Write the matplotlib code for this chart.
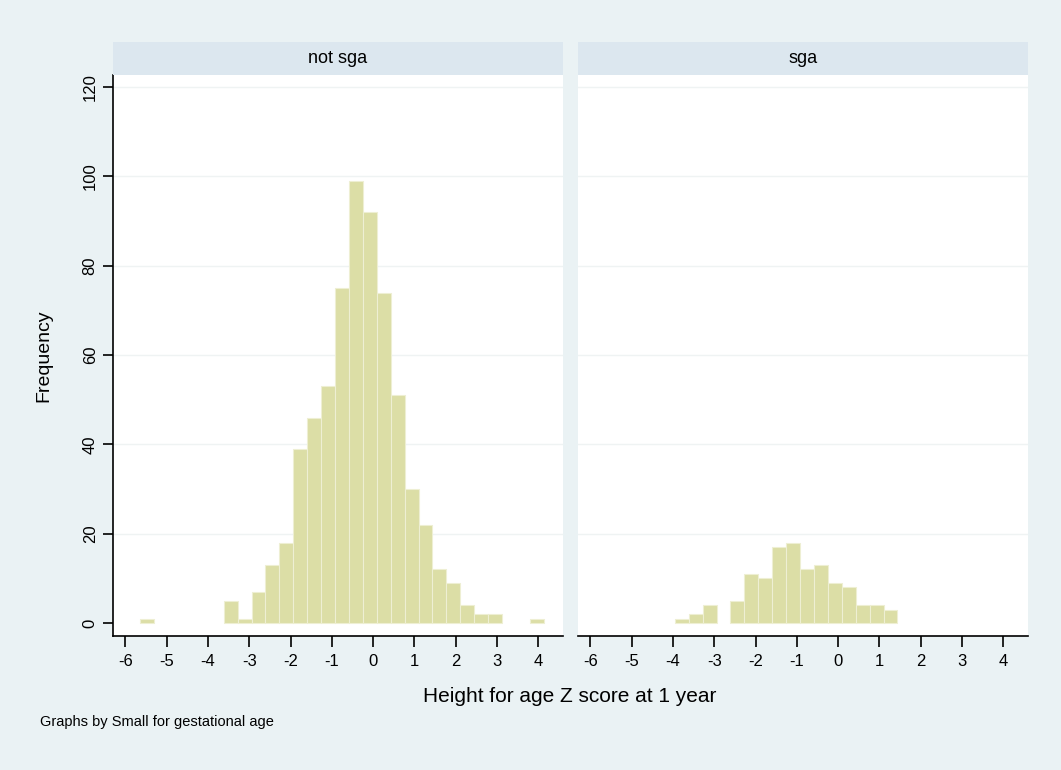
import numpy as np
import matplotlib
matplotlib.use("Agg")
import matplotlib.pyplot as plt

# ---- data ----
panels = ["not sga", "sga"]
bin_min = -5.64
bin_width = 0.337
n_bins = 29
bin_edges = bin_min + bin_width * np.arange(n_bins + 1)

counts_not_sga = [1, 0, 0, 0, 0, 0, 5, 1, 7, 13, 18, 39, 46, 53, 75, 99, 92, 74,
                  51, 30, 22, 12, 9, 4, 2, 2, 0, 0, 1]
counts_sga = [0, 0, 0, 0, 0, 1, 2, 4, 0, 5, 11, 10, 17, 18, 12, 13, 9, 8, 4, 4, 3,
              0, 0, 0, 0, 0, 0, 0, 0]
x_ticks = [-6, -5, -4, -3, -2, -1, 0, 1, 2, 3, 4]
y_ticks = [0, 20, 40, 60, 80, 100, 120]
x_label = "Height for age Z score at 1 year"
y_label = "Frequency"
note = "Graphs by Small for gestational age"

# ---- style ----
FONT = ["Liberation Sans Narrow", "Liberation Sans", "DejaVu Sans"]
plt.rcParams["font.family"] = FONT
bg = "#EAF2F4"
strip_col = "#DCE7EF"
bar_col = "#DCDEA6"
edge_col = "#EEEFD3"

W, H = 1061, 770
fig = plt.figure(figsize=(W / 100, H / 100), dpi=100, facecolor=bg)

def fx(px):
    return px / W

def fy(py):
    return 1 - py / H

ax_top, ax_bot = 75, 636
strip_top = 42
lefts = [113, 578]
width = 450

for i, (name, counts) in enumerate(zip(panels, [counts_not_sga, counts_sga])):
    x0 = lefts[i]
    ax = fig.add_axes([fx(x0), fy(ax_bot), fx(width), (ax_bot - ax_top) / H])
    ax.set_facecolor("white")
    c = np.array(counts, dtype=float)
    m = c > 0
    ax.bar(bin_edges[:-1][m], c[m], width=np.diff(bin_edges)[m], align="edge",
           color=bar_col, edgecolor=edge_col, linewidth=0.8, zorder=2)
    ax.set_xlim(-6.3, 4.6)
    ax.set_ylim(-2.9, 122.7)
    ax.set_yticks(y_ticks)
    ax.set_xticks(x_ticks)
    ax.set_xticklabels([str(t) for t in x_ticks], fontsize=12)
    for y in y_ticks[1:]:
        ax.axhline(y, color="#EFF3F3", lw=1.0, zorder=1)
    ax.tick_params(axis="x", direction="out", length=8, width=1.2, pad=5, colors="black")
    for s in ["top", "right"]:
        ax.spines[s].set_visible(False)
    ax.spines["bottom"].set_linewidth(1.2)
    if i == 0:
        ax.set_yticklabels([str(t) for t in y_ticks], fontsize=12, rotation=90, va="center")
        ax.tick_params(axis="y", direction="out", length=7, width=1.2, pad=4)
        ax.spines["left"].set_linewidth(1.2)
        ax.set_ylabel(y_label, fontsize=14)
        ax.yaxis.set_label_coords((52 - x0) / width, 0.5)
    else:
        ax.spines["left"].set_visible(False)
        ax.tick_params(axis="y", left=False, labelleft=False)

    sax = fig.add_axes([fx(x0), fy(ax_top), fx(width), (ax_top - strip_top) / H])
    sax.set_facecolor(strip_col)
    sax.set_xticks([])
    sax.set_yticks([])
    for s in sax.spines.values():
        s.set_visible(False)
    sax.text(0.5, 0.5, name, ha="center", va="center", fontsize=13,
             transform=sax.transAxes)

fig.text(fx(570), fy(696), x_label, ha="center", va="center", fontsize=15)
fig.text(fx(40), fy(722), note, ha="left", va="center", fontsize=10.5)

fig.savefig("out.png", dpi=100, facecolor=bg)
